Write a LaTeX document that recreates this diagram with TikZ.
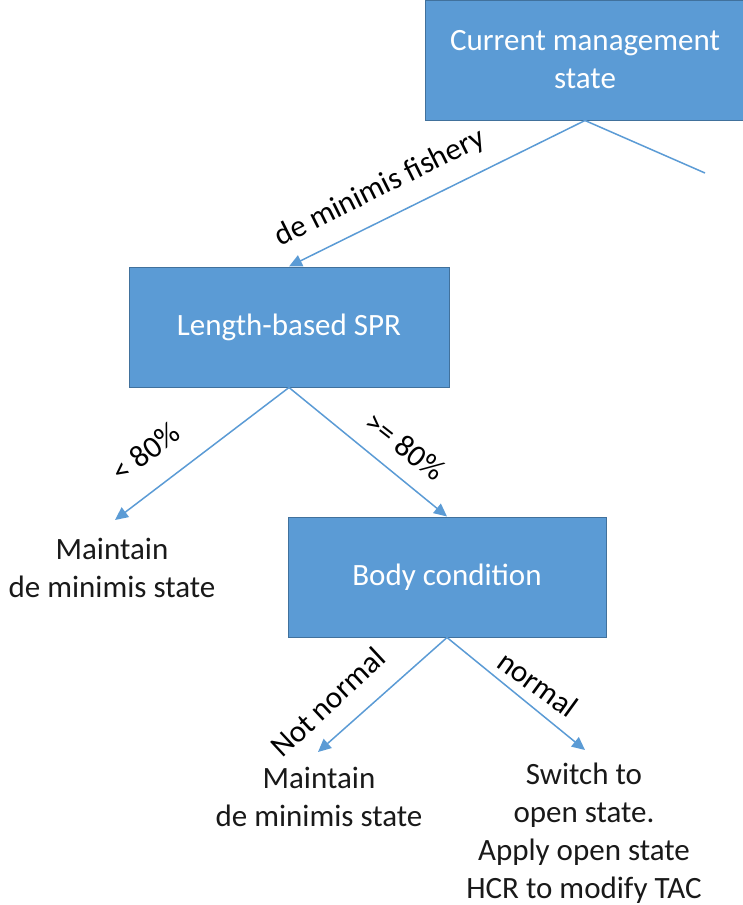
\documentclass[tikz,border=0pt]{standalone}
\usepackage{fontspec}
\setmainfont{Carlito}
\usetikzlibrary{arrows.meta}
\definecolor{boxblue}{HTML}{5B9BD5}
\definecolor{boxedge}{HTML}{41719C}
\begin{document}
\begin{tikzpicture}[x=1pt,y=-1pt,
  box/.style={draw=boxedge, line width=1pt, fill=boxblue, text=white, minimum width=320pt, minimum height=120pt, align=center, font=\fontsize{31}{38}\selectfont, inner sep=0pt},
  leaf/.style={align=center, font=\fontsize{31}{38}\selectfont, text=black!90, inner sep=0pt},
  lab/.style={font=\fontsize{31}{38}\selectfont, text=black, inner sep=0pt},
  conn/.style={draw=boxblue, line width=1.5pt, -{Triangle[length=13pt,width=12pt]}},
  plain/.style={draw=boxblue, line width=1.5pt}
]
\useasboundingbox (0,0) rectangle (743,905);
\node[box] (b1) at (585,60) {Current management\\state};
\node[box] (b2) at (289,327) {Length-based SPR};
\node[box, minimum width=318pt] (b3) at (447,577) {Body condition};
\node[leaf] (l1) at (112,568) {Maintain\\de minimis state};
\node[leaf] (l2) at (319,797) {Maintain\\de minimis state};
\node[leaf] (l3) at (584,833) {Switch to\\open state.\\Apply open state\\HCR to modify TAC};
\coordinate (t1) at (115,520);
\coordinate (t2) at (318,752);
\coordinate (t3) at (585,750);
\coordinate (t0) at (705,173);
\draw[conn] (b1.south) -- (b2.north);
\draw[plain] (b1.south) -- (t0);
\draw[conn] (b2.south) -- (t1);
\draw[conn] (b2.south) -- (b3.north);
\draw[conn] (b3.south) -- (t2);
\draw[conn] (b3.south) -- (t3);
\node[lab, rotate=26.5] (a1) at (380,188) {de minimis fishery};
\node[lab, rotate=37] (a2) at (146,452) {< 80\%};
\node[lab, rotate=-38] (a3) at (405,446) {>= 80\%};
\node[lab, rotate=43] (a4) at (328,702) {Not normal};
\node[lab, rotate=-36] (a5) at (538,684) {normal};
\end{tikzpicture}
\end{document}
